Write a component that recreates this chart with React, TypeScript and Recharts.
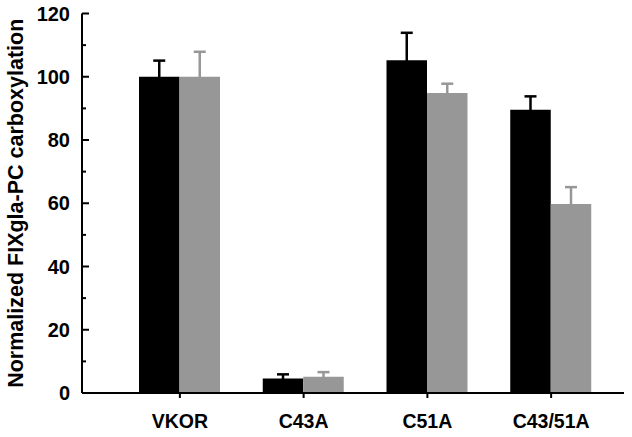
import React from "react";
import { BarChart, Bar, XAxis, YAxis, ErrorBar } from "recharts";

const categories = ["VKOR", "C43A", "C51A", "C43/51A"];
const blackValues = [100, 4.6, 105.2, 89.6];
const blackErrors = [5.1, 1.3, 8.7, 4.2];
const grayValues = [100, 5.1, 94.9, 59.8];
const grayErrors = [7.9, 1.5, 2.9, 5.3];
const yTicks = [0, 10, 20, 30, 40, 50, 60, 70, 80, 90, 100, 110, 120];

const data = categories.map((name, i) => ({
  name,
  black: blackValues[i],
  blackErr: blackErrors[i],
  gray: grayValues[i],
  grayErr: grayErrors[i],
}));

const FONT = "'Liberation Sans', Arial, sans-serif";
const GRAY = "#979797";

const YTick = (props: any) => {
  const { x, y, payload } = props;
  const major = payload.value % 20 === 0;
  return (
    <g>
      <line x1={x + 12} x2={x + (major ? 19 : 16)} y1={y} y2={y} stroke="#000" strokeWidth={2} />
      {major && (
        <text x={x} y={y} dy="0.36em" textAnchor="end" fontFamily={FONT} fontWeight="bold" fontSize={20} fill="#000">
          {payload.value}
        </text>
      )}
    </g>
  );
};

const YLabel = (props: any) => {
  const vb = props.viewBox;
  const cx = 16;
  const cy = vb.y + vb.height / 2;
  return (
    <text
      x={cx}
      y={cy}
      transform={`rotate(-90 ${cx} ${cy})`}
      textAnchor="middle"
      dominantBaseline="central"
      fontFamily={FONT}
      fontWeight="bold"
      fontSize={21.5}
      fill="#000"
    >
      Normalized FIXgla-PC carboxylation
    </text>
  );
};

export default function App() {
  return (
    <div style={{ position: "absolute", left: 0, top: 0, background: "#fff" }}>
      <BarChart
        width={632}
        height={437}
        data={data}
        margin={{ top: 13.5, right: 8, bottom: 0, left: 0 }}
        barGap={0}
        barSize={40.5}
      >
        <XAxis
          dataKey="name"
          padding={{ left: 36, right: 11 }}
          height={44}
          axisLine={{ stroke: "#000", strokeWidth: 2 }}
          tickLine={{ stroke: "#000", strokeWidth: 2 }}
          tickSize={5}
          tickMargin={16}
          tick={{ fill: "#000", fontFamily: FONT, fontWeight: "bold", fontSize: 19.5 }}
        />
        <XAxis xAxisId="top" dataKey="name" orientation="top" height={0} tick={false} tickLine={false} axisLine={{ stroke: "#000", strokeWidth: 2 }} />
        <YAxis
          domain={[0, 120]}
          ticks={yTicks}
          interval={0}
          width={82}
          tickSize={0}
          tickMargin={12}
          tickLine={false}
          axisLine={{ stroke: "#000", strokeWidth: 2 }}
          tick={<YTick />}
          label={{ content: <YLabel /> }}
        />
        <YAxis yAxisId="right" orientation="right" width={0} tick={false} tickLine={false} axisLine={{ stroke: "#000", strokeWidth: 2 }} />
        <Bar dataKey="black" fill="#000" isAnimationActive={false}>
          <ErrorBar dataKey="blackErr" width={6} stroke="#000" strokeWidth={2.5} direction="y" />
        </Bar>
        <Bar dataKey="gray" fill={GRAY} isAnimationActive={false}>
          <ErrorBar dataKey="grayErr" width={6} stroke={GRAY} strokeWidth={2.5} direction="y" />
        </Bar>
      </BarChart>
    </div>
  );
}
